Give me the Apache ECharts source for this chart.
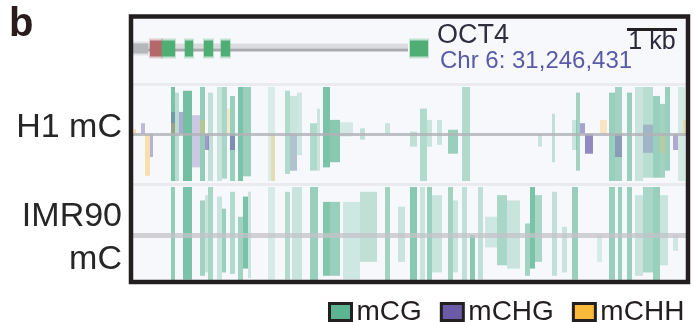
<!DOCTYPE html>
<html>
<head>
<meta charset="utf-8">
<script src="https://cdn.jsdelivr.net/npm/echarts@6/dist/echarts.min.js"></script>
<style>
  html, body { margin: 0; padding: 0; background: #fff; }
  #chart { width: 695px; height: 322px; }
</style>
</head>
<body>
<div id="chart"></div>
<script>
// window is ~11 kb, positions are bp offsets from the left edge
const windowBp = 11060;
const geneSpan = [0, 5500];
// [start, end, kind]  kind: 0 = utr, 1 = first exon (red), 2 = exon
const geneBlocks = [
    [0, 300, 0],
    [340, 580, 1],
    [580, 840, 2],
    [1040, 1200, 2],
    [1420, 1600, 2],
    [1760, 1940, 2],
    [5540, 5900, 2]
];
const scaleBar = [9880, 10880];

// [start, end, plus strand level, minus strand level, shade]
const h1CG = [
    [760, 840, 1.0, 1.0, 0.8], [840, 920, 0.88, 1.0, 0.4], [1000, 1180, 0.92, 1.0, 0.85],
    [1340, 1440, 1.0, 1.0, 0.65], [1500, 1600, 0.88, 1.0, 0.35], [1680, 1780, 1.0, 1.0, 0.3],
    [1780, 1880, 1.0, 0.95, 0.5], [1940, 2040, 0.81, 1.0, 0.6], [2100, 2200, 1.0, 1.0, 0.8],
    [2200, 2360, 1.0, 0.9, 0.6], [2700, 2840, 1.0, 1.0, 0.18], [3040, 3140, 0.92, 0.85, 0.45],
    [3140, 3280, 0.81, 0.78, 0.3], [3280, 3380, 0.88, 0.45, 0.25], [3540, 3680, 0.23, 0.78, 0.45],
    [3680, 3740, 0.54, 0.78, 0.3], [3800, 3940, 1.0, 0.71, 0.8], [3940, 4140, 0.3, 0.6, 0.7],
    [4140, 4400, 0.25, 0.05, 0.22], [4540, 4640, 0.12, 0.12, 0.35], [5040, 5140, 0.23, 0, 0.3],
    [5540, 5680, 0.05, 0.27, 0.35], [5740, 5880, 0.54, 1.0, 0.45], [5880, 5980, 0.3, 0.27, 0.3],
    [6080, 6180, 0.3, 0.23, 0.3], [6300, 6500, 0.09, 0.42, 0.6], [6580, 6740, 1.0, 1.0, 0.45],
    [8100, 8180, 0, 0.27, 0.3], [8380, 8440, 0.43, 0.6, 0.35], [8780, 8880, 0.3, 0.34, 0.3],
    [8860, 8940, 0.88, 0.78, 0.55], [9520, 9640, 0.88, 1.0, 0.6], [9640, 9780, 1.0, 1.0, 0.55],
    [9880, 9980, 0.88, 1.0, 0.6], [10040, 10200, 1.0, 1.0, 0.3], [10200, 10400, 1.0, 0.93, 0.4],
    [10400, 10540, 0.81, 0.93, 0.6], [10540, 10640, 0.64, 0.93, 0.55], [10640, 10740, 1.0, 0.78, 0.6],
    [10900, 11040, 1.0, 1.0, 0.22]
];
const h1CHG = [
    [160, 240, 0.23, 0, 0.4], [340, 400, 0, 0.49, 0.45], [760, 840, 0.47, 0, 0.4],
    [920, 1000, 0.47, 0, 0.5], [1180, 1340, 0.4, 0.71, 0.3], [1440, 1520, 0, 0.34, 0.6],
    [1940, 2040, 0, 0.34, 0.55], [3140, 3280, 0, 0.78, 0.25], [8940, 9040, 0.23, 0, 0.55],
    [9040, 9200, 0, 0.42, 0.7], [9640, 9780, 0, 0.49, 0.45], [10200, 10400, 0.2, 0.4, 0.3],
    [10800, 10900, 0, 0.34, 0.5]
];
const h1CHH = [
    [20, 60, 0.1, 0, 0.5], [240, 340, 0, 0.89, 0.4], [760, 840, 0.23, 0, 0.3],
    [1340, 1440, 0.3, 0, 0.3], [1880, 1940, 0.54, 0, 0.25], [2760, 2840, 0, 1.0, 0.3],
    [9340, 9480, 0.3, 0, 0.3], [10540, 10640, 0, 0.4, 0.25], [11000, 11060, 0.3, 0, 0.3]
];
const imrCG = [
    [760, 840, 1.0, 1.0, 0.65], [1000, 1180, 1.0, 0.93, 0.8], [1340, 1440, 0.72, 0.85, 0.55],
    [1440, 1500, 0.83, 0.78, 0.3], [1500, 1600, 1.0, 1.0, 0.5], [1680, 1780, 0.8, 0.93, 0.3],
    [1780, 1860, 0.55, 0.78, 0.6], [1940, 2040, 0.9, 0.81, 0.45], [2100, 2200, 0.38, 1.0, 0.55],
    [2200, 2300, 0.8, 0.7, 0.8], [2300, 2360, 0.9, 0.9, 0.3], [2700, 2840, 1.0, 0.93, 0.2],
    [3040, 3140, 0.9, 0.93, 0.45], [3180, 3380, 1.0, 0.93, 0.3], [3540, 3700, 1.0, 1.0, 0.6],
    [3800, 3940, 0.69, 0.85, 0.75], [3940, 4140, 0.69, 0.85, 0.6], [4200, 4540, 0.69, 0.93, 0.25],
    [4540, 4880, 0.9, 0.56, 0.35], [5040, 5140, 1.0, 1.0, 0.55], [5300, 5440, 0.59, 0.56, 0.3],
    [5540, 5680, 1.0, 1.0, 0.7], [5740, 5840, 1.0, 1.0, 0.3], [5880, 5980, 1.0, 1.0, 0.6],
    [5980, 6180, 0.83, 0.78, 0.3], [6300, 6400, 1.0, 1.0, 0.55], [6400, 6500, 0.72, 0.78, 0.3],
    [6580, 6680, 1.0, 1.0, 0.35], [6740, 6840, 0, 1.0, 0.7], [6900, 7000, 1.0, 0.93, 0.35],
    [7040, 7280, 0.38, 0.26, 0.25], [7280, 7480, 0.83, 0.63, 0.5], [7480, 7740, 0.72, 0.7, 0.3],
    [7840, 7940, 0.24, 0.85, 0.55], [7940, 8040, 1.0, 0.7, 0.8], [8040, 8180, 0.83, 0.56, 0.5],
    [8380, 8480, 0.9, 0.85, 0.35], [8580, 8680, 0.17, 0.78, 0.3], [8780, 8900, 1.0, 0.93, 0.6],
    [9280, 9380, 0, 0.56, 0.2], [9520, 9640, 1.0, 0.93, 0.6], [9700, 9780, 1.0, 1.0, 0.6],
    [9880, 9980, 1.0, 1.0, 0.6], [10040, 10200, 0.83, 0.85, 0.3], [10200, 10400, 1.0, 0.78, 0.5],
    [10400, 10540, 1.0, 1.0, 0.6], [10540, 10700, 0.83, 0.63, 0.3], [10800, 10900, 0, 0.33, 0.25]
];

const colors = { mCG: '#5cb592', mCHG: '#6a5aa8', mCHH: '#fdb93a' };
const FONT = '"Liberation Sans", Arial, sans-serif';
const INK = '#231f20';

// both strands from the centre line
const barItem = (color) => (params, api) => {
    const a = api.coord([api.value(0), 0]);
    const b = api.coord([api.value(1), 0]);
    const up = api.coord([api.value(0), api.value(2)]);
    const down = api.coord([api.value(0), -api.value(3)]);
    const w = Math.max(b[0] - a[0], 2);
    const style = { fill: color, opacity: api.value(4) };
    return {
        type: 'group',
        children: [
            { type: 'rect', shape: { x: a[0], y: up[1], width: w, height: a[1] - up[1] }, style },
            { type: 'rect', shape: { x: a[0], y: a[1], width: w, height: down[1] - a[1] }, style }
        ]
    };
};

const geneBlockItem = (params, api) => {
    const a = api.coord([api.value(0), 0]);
    const b = api.coord([api.value(1), 0]);
    const kind = api.value(2);
    const half = kind === 0 ? 5 : 8;
    const fill = kind === 0 ? '#b4b7bb' : kind === 1 ? '#b5686a' : '#4fae74';
    return {
        type: 'group',
        children: [
            { type: 'rect', shape: { x: a[0] - 1, y: a[1] - half - 2, width: b[0] - a[0] + 2, height: half * 2 + 4 }, style: { fill, opacity: 0.3 } },
            { type: 'rect', shape: { x: a[0], y: a[1] - half, width: b[0] - a[0], height: half * 2 }, style: { fill } }
        ]
    };
};

const geneLineItem = (params, api) => {
    const a = api.coord([api.value(0), 0]);
    const b = api.coord([api.value(1), 0]);
    return {
        type: 'group',
        children: [
            { type: 'rect', shape: { x: a[0], y: a[1] - 5, width: b[0] - a[0], height: 5 }, style: { fill: '#d9dbdf' } },
            { type: 'rect', shape: { x: a[0], y: a[1], width: b[0] - a[0], height: 3 }, style: { fill: '#a9abae' } }
        ]
    };
};

const scaleBarItem = (params, api) => {
    const a = api.coord([api.value(0), 0]);
    const b = api.coord([api.value(1), 0]);
    const y = params.coordSys.y + 9;
    return {
        type: 'group',
        children: [
            { type: 'rect', shape: { x: a[0], y, width: b[0] - a[0], height: 3 }, style: { fill: INK } },
            {
                type: 'text',
                style: {
                    text: '1 kb', x: (a[0] + b[0]) / 2, y: y + 14,
                    font: '25px ' + FONT, fill: '#2a2a3a',
                    align: 'center', verticalAlign: 'middle',
                    textAlign: 'center', textVerticalAlign: 'middle'
                }
            }
        ]
    };
};

const makeX = (i, line) => ({
    type: 'value', gridIndex: i, min: 0, max: windowBp, z: 3,
    axisLine: line ? { show: true, onZero: true, lineStyle: line } : { show: false },
    axisTick: { show: false }, axisLabel: { show: false }, splitLine: { show: false }
});
const makeY = (i) => ({ type: 'value', gridIndex: i, min: -1, max: 1, show: false, splitLine: { show: false } });

const label = (text, x, y, opts) => ({
    type: 'text', x, y, z: 10,
    style: Object.assign({
        text, font: '34px ' + FONT, fill: '#262626',
        align: 'right', verticalAlign: 'middle',
        textAlign: 'right', textVerticalAlign: 'middle'
    }, opts || {})
});

const option = {
    animation: false,
    grid: [
        { left: 133, right: 9, top: 19, height: 59 },
        { left: 133, right: 9, top: 87, height: 94 },
        { left: 133, right: 9, top: 187, height: 96 }
    ],
    xAxis: [
        makeX(0, null),
        makeX(1, { color: '#b2b2b7', width: 3, opacity: 0.8 }),
        makeX(2, { color: '#c3c3c8', width: 5, opacity: 0.75 })
    ],
    yAxis: [makeY(0), makeY(1), makeY(2)],
    legend: {
        left: 328, top: 298, width: 367, padding: 0,
        icon: 'rect', itemWidth: 22, itemHeight: 17, itemGap: 18,
        selectedMode: false,
        itemStyle: { borderColor: INK, borderWidth: 3 },
        textStyle: { fontSize: 28, color: INK, fontFamily: FONT },
        data: [
            { name: 'mCG', itemStyle: { color: colors.mCG } },
            { name: 'mCHG', itemStyle: { color: colors.mCHG } },
            { name: 'mCHH', itemStyle: { color: colors.mCHH } }
        ]
    },
    graphic: [
        { type: 'rect', z: -10, shape: { x: 131, y: 16.5, width: 557, height: 265.5 }, style: { fill: '#f6f8fc' } },
        { type: 'rect', z: -5, shape: { x: 133, y: 83, width: 555, height: 3 }, style: { fill: '#e9ebef' } },
        { type: 'rect', z: -5, shape: { x: 133, y: 183, width: 555, height: 3 }, style: { fill: '#e9ebef' } },
        { type: 'rect', z: 100, shape: { x: 131, y: 16.5, width: 557, height: 265.5 }, style: { fill: null, stroke: INK, lineWidth: 4.5 } },
        label('b', 9, 25, { font: 'bold 40px ' + FONT, fill: '#2a1c1c', align: 'left', textAlign: 'left' }),
        label('H1 mC', 122, 128),
        label('IMR90', 122, 217),
        label('mC', 122, 260),
        label('OCT4', 437, 36, { font: '27px ' + FONT, fill: '#2e2e3e', align: 'left', textAlign: 'left' }),
        label('Chr 6: 31,246,431', 440, 61, { font: '24px ' + FONT, fill: '#5a5aa8', align: 'left', textAlign: 'left' })
    ],
    series: [
        { type: 'custom', name: 'gene', xAxisIndex: 0, yAxisIndex: 0, renderItem: geneLineItem, data: [geneSpan], encode: { x: [0, 1] } },
        { type: 'custom', name: 'exons', xAxisIndex: 0, yAxisIndex: 0, renderItem: geneBlockItem, data: geneBlocks, encode: { x: [0, 1] } },
        { type: 'custom', name: 'scale', xAxisIndex: 0, yAxisIndex: 0, renderItem: scaleBarItem, data: [scaleBar], encode: { x: [0, 1] } },
        { type: 'custom', name: 'mCG', xAxisIndex: 1, yAxisIndex: 1, itemStyle: { color: colors.mCG }, renderItem: barItem(colors.mCG), data: h1CG, encode: { x: [0, 1], y: 2 } },
        { type: 'custom', name: 'mCHG', xAxisIndex: 1, yAxisIndex: 1, itemStyle: { color: colors.mCHG }, renderItem: barItem(colors.mCHG), data: h1CHG, encode: { x: [0, 1], y: 2 } },
        { type: 'custom', name: 'mCHH', xAxisIndex: 1, yAxisIndex: 1, itemStyle: { color: colors.mCHH }, renderItem: barItem(colors.mCHH), data: h1CHH, encode: { x: [0, 1], y: 2 } },
        { type: 'custom', name: 'mCG', xAxisIndex: 2, yAxisIndex: 2, itemStyle: { color: colors.mCG }, renderItem: barItem(colors.mCG), data: imrCG, encode: { x: [0, 1], y: 2 } }
    ]
};

const chart = echarts.init(document.getElementById('chart'), null, { renderer: 'canvas' });
chart.setOption(option);
window.addEventListener('resize', () => chart.resize());
</script>
</body>
</html>
